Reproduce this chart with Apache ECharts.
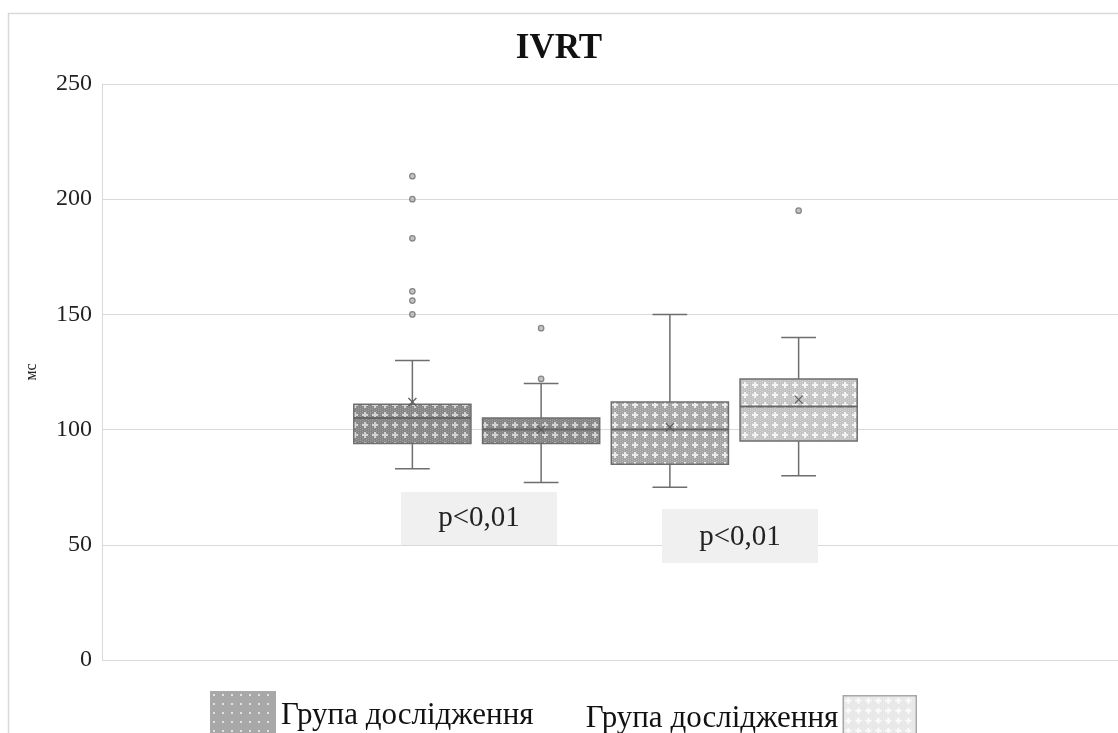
<!DOCTYPE html>
<html>
<head>
<meta charset="utf-8">
<script src="https://cdn.jsdelivr.net/npm/echarts@6/dist/echarts.min.js"></script>
<style>
    html, body { margin: 0; padding: 0; background: #fff; }
    #chart { width: 1118px; height: 733px; }
</style>
</head>
<body>
<div id="chart"></div>
<script>
// values
var categories = ['1', '2', '3', '4'];
var groupOf = [0, 0, 1, 1];
var legendNames = ['Група дослідження', 'Група дослідження'];
var whiskerLow = [83, 77, 75, 80];
var q1 = [94, 94, 85, 95];
var median = [105, 100, 100, 110];
var q3 = [111, 105, 112, 122];
var whiskerHigh = [130, 120, 150, 140];
var means = [112, 100, 101, 113];
var outlierCat = [0, 0, 0, 0, 0, 0, 1, 1, 3];
var outlierVal = [210, 200, 183, 160, 156, 150, 144, 122, 195];
var yMin = 0, yMax = 250, yStep = 50;
var pLabels = ['p<0,01', 'p<0,01'];

var SERIF = "'Liberation Serif', 'DejaVu Serif', serif";

function tile(base, fine, cross) {
    var c = document.createElement('canvas');
    c.width = 10; c.height = 10;
    var g = c.getContext('2d');
    g.fillStyle = base;
    g.fillRect(0, 0, 10, 10);
    g.fillStyle = fine;
    for (var i = 0; i < 10; i += 2) {
        for (var j = (i / 2) % 2; j < 10; j += 2) {
            g.fillRect(i, j, 1, 1);
        }
    }
    g.fillStyle = cross;
    g.fillRect(4, 2, 2, 6);
    g.fillRect(2, 4, 6, 2);
    return { image: c, repeat: 'repeat' };
}

function dots(base, dot, step) {
    var c = document.createElement('canvas');
    c.width = step; c.height = step;
    var g = c.getContext('2d');
    g.fillStyle = base;
    g.fillRect(0, 0, step, step);
    g.fillStyle = dot;
    g.fillRect(Math.floor(step / 2) - 1, Math.floor(step / 2) - 1, 2, 2);
    return { image: c, repeat: 'repeat' };
}

var boxFills = [
    tile('#858585', '#9e9e9e', '#d4d4d4'),
    tile('#858585', '#9e9e9e', '#d4d4d4'),
    tile('#a2a2a2', '#bababa', '#ececec'),
    tile('#c2c2c2', '#d4d4d4', '#f4f4f4')
];
var legendFills = [
    dots('#a8a8a8', '#e2e2e2', 9),
    tile('#e6e6e6', '#f2f2f2', '#fbfbfb')
];

function seriesData(g) {
    var out = [];
    categories.forEach(function (c, i) {
        if (groupOf[i] !== g) return;
        out.push([i, whiskerLow[i], q1[i], median[i], q3[i], whiskerHigh[i], means[i]]);
    });
    return out;
}

function renderBox(params, api) {
    var x = api.value(0);
    var lo = api.coord([x, api.value(1)]);
    var b = api.coord([x, api.value(2)]);
    var m = api.coord([x, api.value(3)]);
    var t = api.coord([x, api.value(4)]);
    var hi = api.coord([x, api.value(5)]);
    var mn = api.coord([x, api.value(6)]);
    var band = api.size([1, 0])[0];
    var hw = band * 0.455;
    var cw = band * 0.135;
    var cx = lo[0];
    var lineStyle = { stroke: '#6e6e6e', lineWidth: 1.5 };
    var xs = 4;
    return {
        type: 'group',
        children: [
            { type: 'line', shape: { x1: cx, y1: t[1], x2: cx, y2: hi[1] }, style: lineStyle },
            { type: 'line', shape: { x1: cx, y1: b[1], x2: cx, y2: lo[1] }, style: lineStyle },
            { type: 'line', shape: { x1: cx - cw, y1: hi[1], x2: cx + cw, y2: hi[1] }, style: lineStyle },
            { type: 'line', shape: { x1: cx - cw, y1: lo[1], x2: cx + cw, y2: lo[1] }, style: lineStyle },
            {
                type: 'rect',
                shape: { x: cx - hw, y: t[1], width: hw * 2, height: b[1] - t[1] },
                style: { fill: boxFills[x], stroke: '#6e6e6e', lineWidth: 1.5 }
            },
            { type: 'line', shape: { x1: cx - hw, y1: m[1], x2: cx + hw, y2: m[1] }, style: { stroke: '#666', lineWidth: 2 } },
            { type: 'line', shape: { x1: cx - xs, y1: mn[1] - xs, x2: cx + xs, y2: mn[1] + xs }, style: { stroke: '#5e5e5e', lineWidth: 1.3 } },
            { type: 'line', shape: { x1: cx - xs, y1: mn[1] + xs, x2: cx + xs, y2: mn[1] - xs }, style: { stroke: '#5e5e5e', lineWidth: 1.3 } }
        ]
    };
}

var chart = echarts.init(document.getElementById('chart'));

var option = {
    backgroundColor: '#fff',
    animation: false,
    title: {
        text: 'IVRT',
        left: 'center',
        top: 26,
        textStyle: { fontFamily: SERIF, fontWeight: 'bold', fontSize: 35, color: '#111' }
    },
    legend: [
        {
            data: [{ name: 'g0', itemStyle: { color: legendFills[0], borderWidth: 0 } }],
            left: 205,
            top: 686,
            icon: 'rect',
            itemWidth: 66,
            itemHeight: 50,
            selectedMode: false,
            formatter: function () { return legendNames[0]; },
            textStyle: { fontFamily: SERIF, fontSize: 31, color: '#111' }
        },
        {
            data: [{ name: 'g1', itemStyle: { color: legendFills[1], borderColor: '#a8a8a8', borderWidth: 1.5 } }],
            right: 196,
            top: 690,
            align: 'right',
            icon: 'rect',
            itemWidth: 73,
            itemHeight: 46,
            selectedMode: false,
            formatter: function () { return legendNames[1]; },
            textStyle: { fontFamily: SERIF, fontSize: 31, color: '#111' }
        }
    ],
    grid: [
        { left: 102, right: 0, top: 84, bottom: 73 },
        { left: 348, width: 515, top: 84, bottom: 73 }
    ],
    xAxis: [
        { type: 'category', gridIndex: 0, data: [''], show: false },
        { type: 'category', gridIndex: 1, data: categories, show: false }
    ],
    yAxis: [
        {
            type: 'value',
            gridIndex: 0,
            min: yMin,
            max: yMax,
            interval: yStep,
            name: 'мс',
            nameLocation: 'middle',
            nameGap: 62,
            nameRotate: 90,
            nameTextStyle: { fontFamily: SERIF, fontSize: 16, color: '#222' },
            axisLine: { show: true, lineStyle: { color: '#d9d9d9' } },
            axisTick: { show: false },
            axisLabel: { margin: 10, fontFamily: SERIF, fontSize: 24, color: '#222' },
            splitLine: { lineStyle: { color: '#d9d9d9', width: 1.2 } }
        },
        { type: 'value', gridIndex: 1, min: yMin, max: yMax, show: false, splitLine: { show: false } }
    ],
    series: [
        {
            name: 'g0',
            type: 'custom',
            xAxisIndex: 1,
            yAxisIndex: 1,
            renderItem: renderBox,
            encode: { x: 0, y: [1, 2, 3, 4, 5] },
            itemStyle: { color: '#a8a8a8' },
            data: seriesData(0),
            z: 3
        },
        {
            name: 'g1',
            type: 'custom',
            xAxisIndex: 1,
            yAxisIndex: 1,
            renderItem: renderBox,
            encode: { x: 0, y: [1, 2, 3, 4, 5] },
            itemStyle: { color: '#e6e6e6' },
            data: seriesData(1),
            z: 3
        },
        {
            name: 'outliers',
            type: 'scatter',
            xAxisIndex: 1,
            yAxisIndex: 1,
            symbol: 'circle',
            symbolSize: 5.5,
            itemStyle: { color: '#b4b4b4', borderColor: '#6e6e6e', borderWidth: 1.2 },
            data: outlierVal.map(function (v, i) { return [outlierCat[i], v]; }),
            z: 4
        }
    ],
    graphic: [
        {
            type: 'rect',
            silent: true,
            z: -1,
            shape: { x: 8.5, y: 13.5, width: 1200, height: 800 },
            style: { fill: 'none', stroke: '#d9d9d9', lineWidth: 1.5 }
        },
        {
            type: 'rect',
            z: 100,
            shape: { x: 401, y: 492, width: 156, height: 53 },
            style: { fill: '#f0f0f0' }
        },
        {
            type: 'text',
            z: 101,
            x: 479,
            y: 518,
            style: { text: pLabels[0], fontFamily: SERIF, fontSize: 29, fill: '#222', align: 'center', verticalAlign: 'middle' }
        },
        {
            type: 'rect',
            z: 100,
            shape: { x: 662, y: 509, width: 156, height: 54 },
            style: { fill: '#f0f0f0' }
        },
        {
            type: 'text',
            z: 101,
            x: 740,
            y: 537,
            style: { text: pLabels[1], fontFamily: SERIF, fontSize: 29, fill: '#222', align: 'center', verticalAlign: 'middle' }
        }
    ]
};

chart.setOption(option);
</script>
</body>
</html>
